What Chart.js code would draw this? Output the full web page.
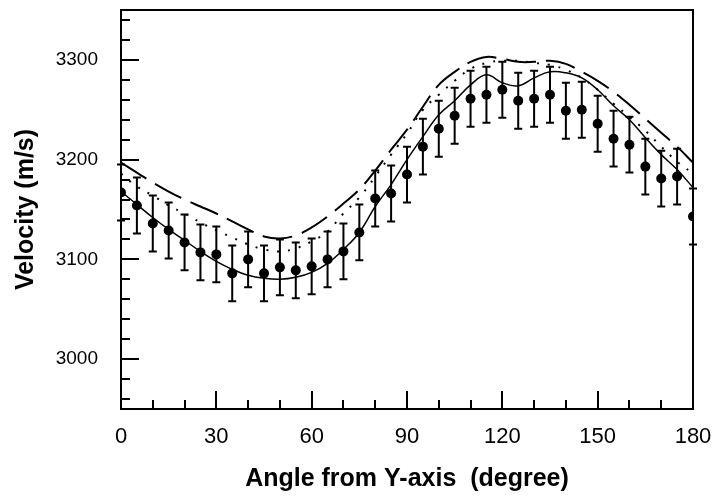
<!DOCTYPE html>
<html><head><meta charset="utf-8">
<script src="https://cdn.jsdelivr.net/npm/chart.js@4.4.0/dist/chart.umd.min.js"></script>
<style>html,body{margin:0;padding:0;background:#fff}#wrap{width:714px;height:496px;position:relative}</style>
</head><body><div id="wrap"><canvas id="c" width="714" height="496"></canvas></div>
<script>
const angles = [0,5,10,15,20,25,30,35,40,45,50,55,60,65,70,75,80,85,90,95,100,105,110,115,120,125,130,135,140,145,150,155,160,165,170,175,180];
const measured = [3167,3154,3136,3129,3117,3107,3105,3086,3100,3086,3092,3089,3093,3100,3108,3127,3161,3166,3185,3213,3231,3244,3261,3265,3270,3259,3261,3265,3249,3250,3236,3221,3215,3193,3181,3183,3143];
const errors = [28,28,28,28,28,28,28,28,28,28,28,28,28,28,28,28,28,28,28,28,28,28,28,28,28,28,28,28,28,28,28,28,28,28,28,28,28];
const modelSolid = [3168,3155,3142,3130,3119,3108,3098,3090,3084,3081,3080,3082,3087,3096,3110,3127,3153,3175,3200,3223,3245,3259,3275,3285,3277,3274,3282,3288,3287,3282,3270,3254,3240,3222,3205,3190,3172];
const modelDotted = [3186,3173,3164,3154,3146,3137,3129,3122,3115,3110,3108,3111,3118,3128,3146,3162,3183,3205,3226,3250,3265,3279,3291,3297,3299,3299,3297,3295,3290,3282,3270,3256,3243,3229,3213,3198,3186];
const modelDashed = [3197,3187,3177,3168,3160,3153,3146,3138,3130,3123,3121,3124,3132,3143,3156,3170,3189,3210,3230,3253,3275,3288,3298,3303,3301,3298,3298,3299,3296,3288,3279,3268,3255,3241,3227,3213,3197];
const xLabelTicks = [0,30,60,90,120,150,180];
const yLabelTicks = [3000,3100,3200,3300];
const xTitle = 'Angle from Y-axis  (degree)';
const yTitle = 'Velocity (m/s)';

const pts = arr => angles.map((a,i)=>({x:a,y:arr[i]}));

const framePlugin = {
  id:'frame',
  afterDatasetsDraw(chart){
    const ctx = chart.ctx, xs = chart.scales.x, ys = chart.scales.y, ca = chart.chartArea;
    ctx.save();
    ctx.strokeStyle = '#000';
    ctx.lineWidth = 2;
    angles.forEach((a,i)=>{
      const px = xs.getPixelForValue(a);
      const top = ys.getPixelForValue(measured[i]+errors[i]);
      const bot = ys.getPixelForValue(measured[i]-errors[i]);
      ctx.beginPath();
      ctx.moveTo(px,top); ctx.lineTo(px,bot);
      ctx.moveTo(px-4,top); ctx.lineTo(px+4,top);
      ctx.moveTo(px-4,bot); ctx.lineTo(px+4,bot);
      ctx.stroke();
    });
    ctx.lineWidth = 2;
    ctx.strokeRect(ca.left, ca.top, ca.right-ca.left, ca.bottom-ca.top);
    ctx.beginPath();
    for (let v = xs.min; v <= xs.max; v += 10) {
      const px = Math.round(xs.getPixelForValue(v));
      const len = (v % 30 === 0) ? 18 : 9;
      ctx.moveTo(px, ca.bottom); ctx.lineTo(px, ca.bottom - len);
    }
    for (let v = 2960; v <= ys.max; v += 20) {
      const py = Math.round(ys.getPixelForValue(v));
      const len = (v % 100 === 0) ? 18 : 9;
      ctx.moveTo(ca.left, py); ctx.lineTo(ca.left + len, py);
    }
    ctx.stroke();
    ctx.restore();
  }
};

new Chart(document.getElementById('c'), {
  type:'scatter',
  data:{datasets:[
    {data:pts(modelSolid), showLine:true, borderColor:'#000', borderWidth:1.5, pointRadius:0, tension:0.4, fill:false},
    {data:pts(modelDotted), showLine:true, borderColor:'#000', borderWidth:2, borderDash:[2,9], pointRadius:0, tension:0.4, fill:false},
    {data:pts(modelDashed), showLine:true, borderColor:'#000', borderWidth:2, borderDash:[30,10], pointRadius:0, tension:0.4, fill:false},
    {data:pts(measured), showLine:false, pointRadius:5, pointBackgroundColor:'#000', pointBorderColor:'#000', pointBorderWidth:0}
  ]},
  options:{
    responsive:false, animation:false, devicePixelRatio:1,
    layout:{padding:{left:0, top:10, right:21, bottom:0}},
    plugins:{legend:{display:false}, tooltip:{enabled:false}},
    scales:{
      x:{type:'linear', min:0, max:180,
        afterFit(s){ s.height = 87; s.paddingLeft = 0; s.paddingRight = 0; },
        grid:{display:false, drawTicks:false}, border:{display:false},
        ticks:{stepSize:10, autoSkip:false, maxRotation:0, padding:15, color:'#000',
          font:{family:'Liberation Sans, Arial, sans-serif', size:22},
          callback:v => xLabelTicks.includes(v) ? String(v) : ''},
        title:{display:true, text:xTitle, color:'#000', padding:{top:0,bottom:2},
          font:{family:'Liberation Sans, Arial, sans-serif', size:25, weight:'bold'}}
      },
      y:{type:'linear', min:2950, max:3350,
        afterFit(s){ s.width = 121; s.paddingTop = 0; s.paddingBottom = 0; },
        grid:{display:false, drawTicks:false}, border:{display:false},
        ticks:{stepSize:10, autoSkip:false, padding:23, color:'#000',
          font:{family:'Liberation Sans, Arial, sans-serif', size:19},
          callback:v => yLabelTicks.includes(v) ? String(v) : ''},
        title:{display:true, text:yTitle, color:'#000', padding:{top:11,bottom:0},
          font:{family:'Liberation Sans, Arial, sans-serif', size:25, weight:'bold'}}
      }
    }
  },
  plugins:[framePlugin]
});
</script></body></html>
